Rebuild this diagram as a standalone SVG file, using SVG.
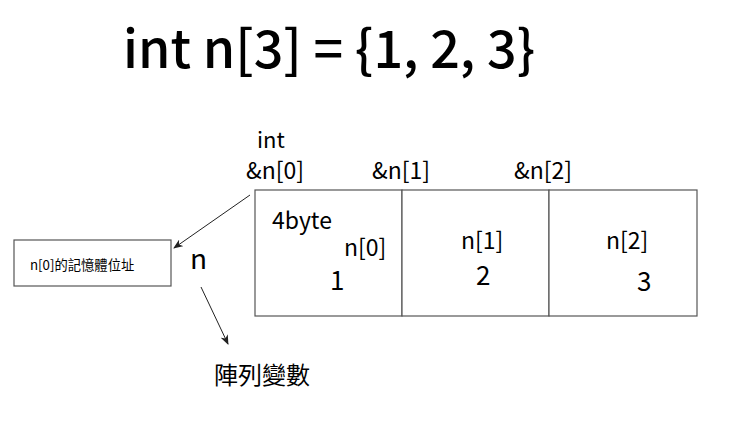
<svg xmlns="http://www.w3.org/2000/svg" width="732" height="425" viewBox="0 0 732 425">
<style>
text{font-family:"Noto Sans CJK TC","Open Sans","Noto Sans",sans-serif;fill:#000}
.box{fill:#fff;stroke:#555;stroke-width:1.2}
.t20{font-size:23px}
.t24{font-size:26px}
.conn{stroke:#222;stroke-width:1;fill:none}
</style>
<defs>
<marker id="ah" markerWidth="10" markerHeight="8" refX="9" refY="4" orient="auto" markerUnits="userSpaceOnUse">
<path d="M0,0 L10,4 L0,8 L3,4 Z" fill="#222"/>
</marker>
</defs>
<rect width="732" height="425" fill="#fff"/>
<text x="123" y="68" font-size="52" font-weight="500">int n[3] = {1, 2, 3}</text>
<g id="labels-top">
<text x="257" y="148" font-size="22">int</text>
<text x="246" y="179" class="t20">&amp;n[0]</text>
<text x="372" y="179" class="t20">&amp;n[1]</text>
<text x="514" y="179" class="t20">&amp;n[2]</text>
</g>
<g id="cell0">
<rect class="box" x="255" y="190" width="147" height="126"/>
<text x="272" y="229" class="t20">4byte</text>
<text x="344" y="256" class="t20">n[0]</text>
<text x="330" y="290" class="t24">1</text>
</g>
<g id="cell1">
<rect class="box" x="402" y="190" width="147" height="126"/>
<text x="461" y="249" class="t20">n[1]</text>
<text x="476" y="285" class="t24">2</text>
</g>
<g id="cell2">
<rect class="box" x="549" y="190" width="148" height="126"/>
<text x="606" y="249" class="t20">n[2]</text>
<text x="637" y="291" class="t24">3</text>
</g>
<g id="addrbox">
<rect class="box" x="14" y="240" width="157" height="46"/>
<text x="30" y="270" font-size="13.3">n[0]的記憶體位址</text>
</g>
<g id="n-label">
<text x="190" y="269" font-size="28">n</text>
</g>
<g id="arrvar">
<text x="214" y="384" font-size="24">陣列變數</text>
</g>
<g id="connectors">
<line class="conn" x1="250" y1="195" x2="174" y2="248" marker-end="url(#ah)"/>
<line class="conn" x1="201" y1="287" x2="228" y2="344" marker-end="url(#ah)"/>
</g>
</svg>
